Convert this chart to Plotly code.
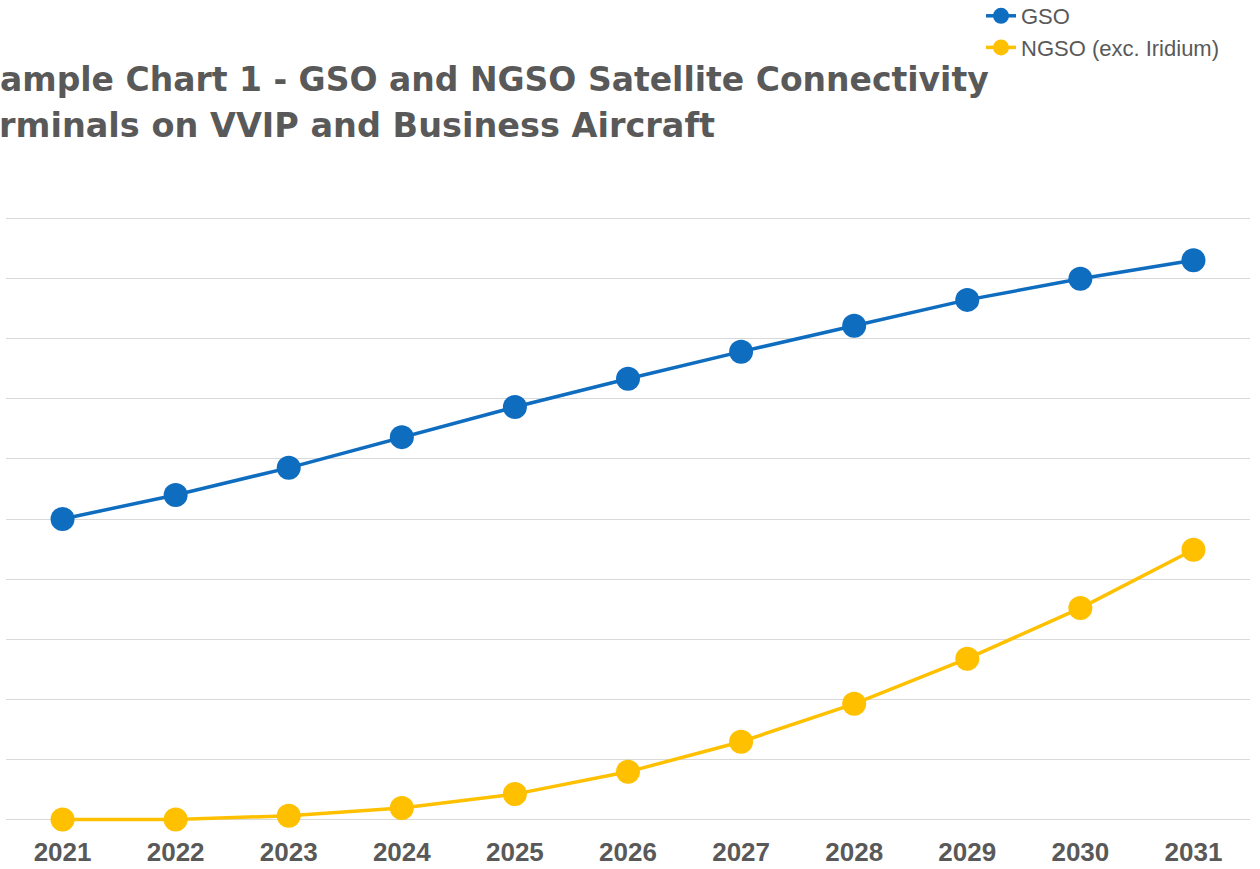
import plotly.graph_objects as go

years = ["2021", "2022", "2023", "2024", "2025", "2026", "2027", "2028", "2029", "2030", "2031"]
gso = [2500, 2700, 2925, 3180, 3430, 3665, 3890, 4105, 4320, 4495, 4650]
ngso = [5, 5, 35, 100, 215, 400, 650, 965, 1340, 1760, 2245]

title_lines = [
    "ample Chart 1 - GSO and NGSO Satellite Connectivity",
    "rminals on VVIP and Business Aircraft",
]

BLUE = "#0F6DC0"
GOLD = "#FFC000"
TXT = "#595959"

W, H = 1260, 869
ML, MR, MT, MB = 6, 10, 215, 46
PW = W - ML - MR
PH = H - MT - MB

def px_x(p):
    return (p - ML) / PW

def px_y(p):
    return (H - MB - p) / PH

fig = go.Figure()
fig.add_trace(go.Scatter(
    x=years, y=gso, name="GSO", mode="lines+markers",
    line=dict(color=BLUE, width=3.5),
    marker=dict(color=BLUE, size=24),
    cliponaxis=False,
))
fig.add_trace(go.Scatter(
    x=years, y=ngso, name="NGSO (exc. Iridium)", mode="lines+markers",
    line=dict(color=GOLD, width=3.5),
    marker=dict(color=GOLD, size=24),
    cliponaxis=False,
))

for txt, ypix, xpix, fs in zip(title_lines, [80, 125], [-1, -2], [33, 33.5]):
    fig.add_annotation(
        text="<b>" + txt + "</b>",
        xref="paper", yref="paper", x=px_x(xpix), y=px_y(ypix),
        xanchor="left", yanchor="middle", align="left", showarrow=False,
        borderpad=0,
        font=dict(family="DejaVu Sans", size=fs, color=TXT),
    )

fig.update_layout(
    width=W, height=H,
    margin=dict(l=ML, r=MR, t=MT, b=MB, pad=0, autoexpand=False),
    paper_bgcolor="white", plot_bgcolor="white",
    font=dict(family="Arial, Liberation Sans, sans-serif", color=TXT),
    showlegend=True,
    legend=dict(
        x=px_x(981), y=px_y(-5), xanchor="left", yanchor="top",
        font=dict(size=22, color=TXT, family="Arial, Liberation Sans, sans-serif"),
        bgcolor="rgba(0,0,0,0)", borderwidth=0, tracegroupgap=0,
    ),
    xaxis=dict(
        type="category", range=[-0.5, 10.5], automargin=False,
        showgrid=False, zeroline=False, showline=False,
        ticks="outside", ticklen=6, tickcolor="rgba(0,0,0,0)",
        tickfont=dict(size=26, color=TXT, family="Arial, Liberation Sans, sans-serif", weight="bold"),
    ),
    yaxis=dict(
        range=[-25, 5025], dtick=500, tick0=0, automargin=False,
        showgrid=True, gridcolor="#d9d9d9", gridwidth=1,
        zeroline=False, showline=False, showticklabels=False, ticks="",
    ),
)

fig.write_html("out.html")
